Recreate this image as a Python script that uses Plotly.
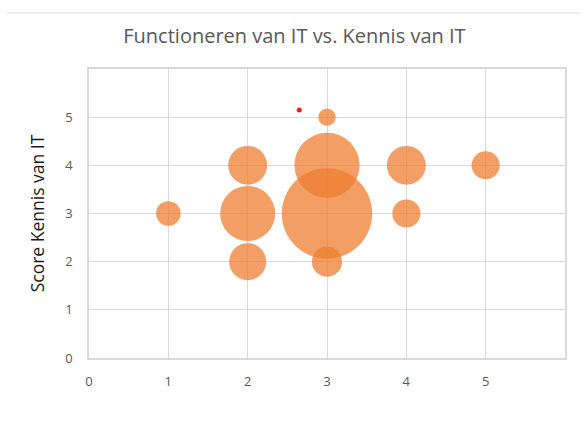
import plotly.graph_objects as go

# Bubble data: functioneren (x), kennis (y), number of answers (bubble size)
functioneren = [1, 2, 2, 2, 3, 3, 3, 3, 4, 4, 5]
kennis = [3, 4, 3, 2, 5, 4, 3, 2, 4, 3, 4]
aantal = [2, 5, 10, 4.5, 1, 14, 27, 3, 5, 2.6, 2.6]

# stray red marker in the original
punt_x = [2.65]
punt_y = [5.15]

ticks = [0, 1, 2, 3, 4, 5]

grey = "#d9d9d9"
font = "Open Sans, Liberation Sans, sans-serif"

fig = go.Figure()
fig.add_trace(go.Scatter(
    x=functioneren, y=kennis, mode="markers",
    marker=dict(size=aantal, sizemode="area", sizeref=1 / (2 * 8.7 ** 2),
                color="#ED7D31", opacity=0.75, line=dict(width=0)),
    showlegend=False,
))
fig.add_trace(go.Scatter(
    x=punt_x, y=punt_y, mode="markers",
    marker=dict(size=5, color="#ff1a1a"), showlegend=False,
))

fig.update_layout(
    width=583, height=425,
    margin=dict(l=89, r=18, t=69, b=67),
    paper_bgcolor="white", plot_bgcolor="white",
    title=dict(text="Functioneren van IT vs. Kennis van IT", x=0.505, y=0.915,
               xanchor="center", yanchor="middle",
               font=dict(family=font, size=20, color="#595959")),
    font=dict(family=font),
    shapes=[dict(type="line", xref="paper", yref="paper",
                 x0=-0.172, x1=1.0315, y0=1.194, y1=1.194,
                 line=dict(color=grey, width=1))],
)
fig.update_xaxes(range=[0, 6], tickvals=ticks, showgrid=True, gridcolor=grey,
                 showline=True, linecolor=grey, linewidth=1.5, mirror=True,
                 zeroline=False, ticks="", ticklabelstandoff=11,
                 tickfont=dict(size=13, color="#595959"))
fig.update_yaxes(range=[0, 6], tickvals=ticks, showgrid=True, gridcolor=grey,
                 showline=True, linecolor=grey, linewidth=1.5, mirror=True,
                 zeroline=False, ticks="", ticklabelstandoff=12,
                 tickfont=dict(size=13, color="#595959"),
                 title=dict(text="Score Kennis van IT", standoff=16,
                            font=dict(family=font, size=17.5, color="#1a1a1a")))

fig.write_html("out.html", config={"displayModeBar": False},
               post_script="document.body.style.margin='0';")
